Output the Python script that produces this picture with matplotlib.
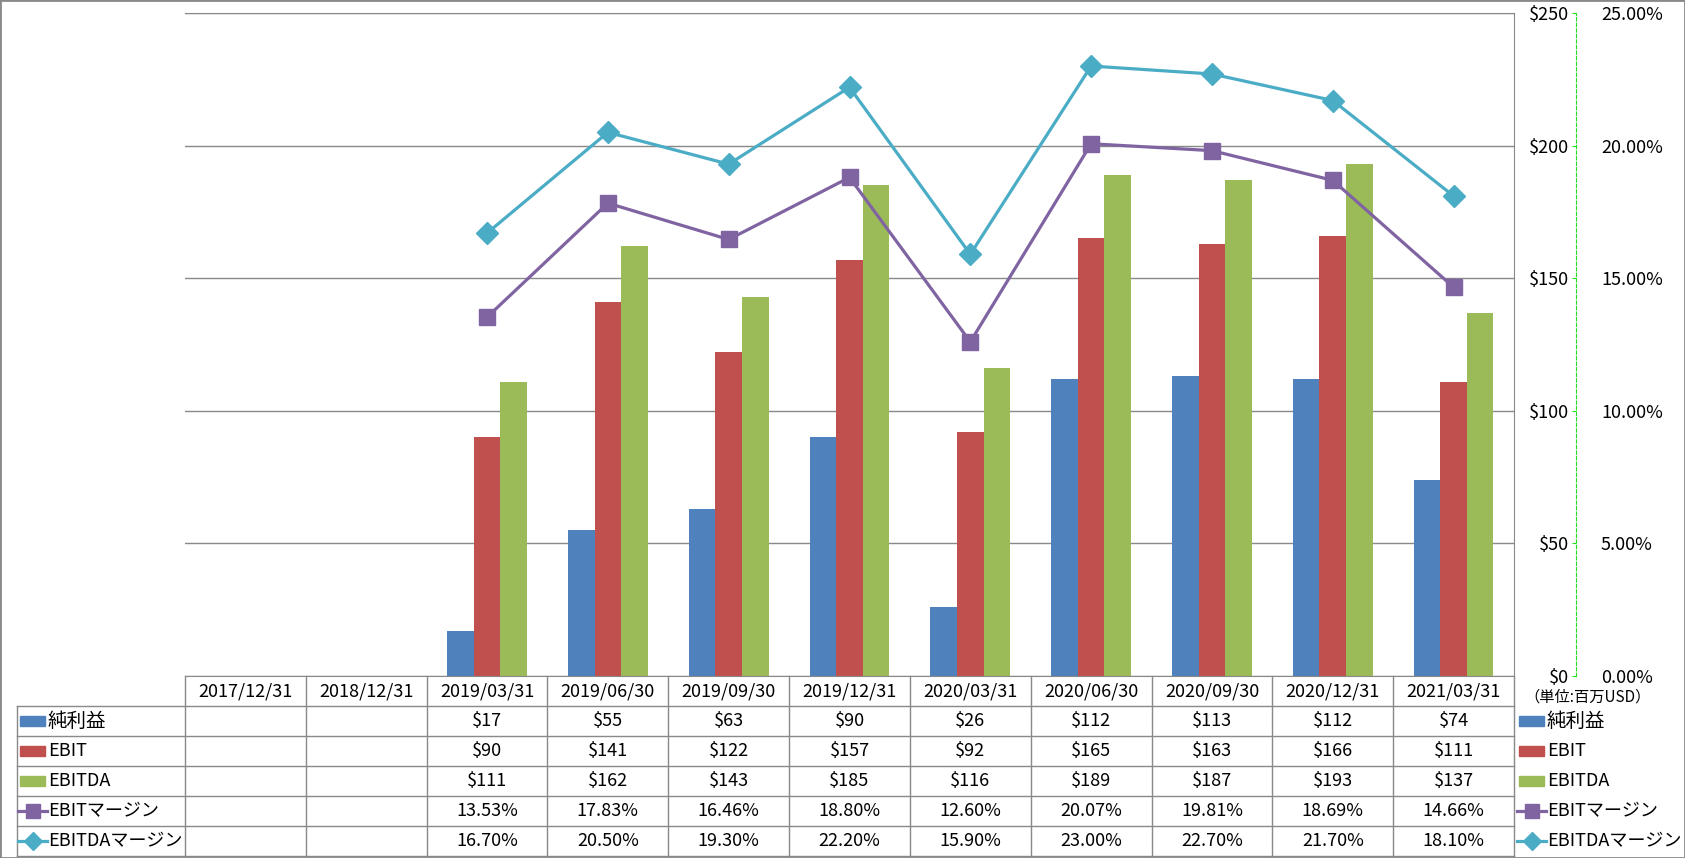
import numpy as np
import matplotlib
matplotlib.use("Agg")
import matplotlib.pyplot as plt
from matplotlib.patches import Rectangle

plt.rcParams['font.family'] = ['Noto Sans CJK JP', 'DejaVu Sans']

# data
dates = ['2017/12/31', '2018/12/31', '2019/03/31', '2019/06/30', '2019/09/30',
         '2019/12/31', '2020/03/31', '2020/06/30', '2020/09/30', '2020/12/31', '2021/03/31']
series_names = ['純利益', 'EBIT', 'EBITDA', 'EBITマージン', 'EBITDAマージン']
net_income = [np.nan, np.nan, 17, 55, 63, 90, 26, 112, 113, 112, 74]
ebit = [np.nan, np.nan, 90, 141, 122, 157, 92, 165, 163, 166, 111]
ebitda = [np.nan, np.nan, 111, 162, 143, 185, 116, 189, 187, 193, 137]
ebit_margin = [np.nan, np.nan, 13.53, 17.83, 16.46, 18.80, 12.60, 20.07, 19.81, 18.69, 14.66]
ebitda_margin = [np.nan, np.nan, 16.70, 20.50, 19.30, 22.20, 15.90, 23.00, 22.70, 21.70, 18.10]
usd_ticks = [0, 50, 100, 150, 200, 250]
pct_ticks = [0, 5, 10, 15, 20, 25]

c_blue, c_red, c_green = '#4F81BD', '#C0504D', '#9BBB59'
c_purple, c_cyan = '#8064A2', '#4BACC6'
grid_c = '#898989'
fs = 13

W, H = 1685, 858
fig = plt.figure(figsize=(W / 100, H / 100), dpi=100)

left, right, top, base = 185, 1514, 13, 676
ax = fig.add_axes([left / W, 1 - base / H, (right - left) / W, (base - top) / H])
x = np.arange(len(dates))
w = 0.22
ax.bar(x - w, net_income, w, color=c_blue)
ax.bar(x, ebit, w, color=c_red)
ax.bar(x + w, ebitda, w, color=c_green)
ax.set_xlim(-0.5, len(dates) - 0.5)
ax.set_ylim(0, 250)
ax.set_yticks(usd_ticks)
ax.set_yticklabels([f'${v}' for v in usd_ticks])
ax.yaxis.grid(True, color=grid_c, lw=1)
ax.set_axisbelow(True)
ax.set_xticks([])
axis_pos = (1576 - left) / (right - left)
ax.spines['left'].set_position(('axes', axis_pos))
ax.spines['left'].set_visible(False)
for s in ['top', 'bottom', 'right']:
    ax.spines[s].set_color(grid_c)
ax.tick_params(axis='y', length=3, color='#22DD22', pad=2, labelsize=fs)

ax2 = ax.twinx()
ax2.plot(x, np.array(ebit_margin) / 100, color=c_purple, lw=2.3, marker='s', ms=11)
ax2.plot(x, np.array(ebitda_margin) / 100, color=c_cyan, lw=2.3, marker='D', ms=11)
ax2.set_ylim(0, 0.25)
ax2.set_yticks([v / 100 for v in pct_ticks])
ax2.set_yticklabels([f'{v:.2f}%' for v in pct_ticks])
ax2.spines['right'].set_position(('axes', axis_pos))
ax2.spines['right'].set_color('#22DD22')
ax2.spines['right'].set_linestyle((0, (3, 2)))
for s in ['top', 'bottom', 'left']:
    ax2.spines[s].set_visible(False)
ax2.tick_params(axis='y', length=0, pad=18, labelsize=fs)
ax2.set_xlim(-0.5, len(dates) - 0.5)

ax.text(1588 / W, 1 - 697 / H, '（単位:百万USD）', transform=fig.transFigure,
        ha='center', va='center', fontsize=11)

# data table
bottom_px = 856
at = fig.add_axes([left / W, 1 - bottom_px / H, (right - left) / W, (bottom_px - base) / H])
ncol = len(dates)
at.set_xlim(-0.5, ncol - 0.5)
at.set_ylim(6, 0)
at.axis('off')
col_px = (right - left) / ncol
xl = -0.5 - (left - 17) / col_px

for r in range(1, 7):
    at.plot([xl, ncol - 0.5], [r, r], color=grid_c, lw=1, clip_on=False)
for i in range(ncol + 1):
    at.plot([i - 0.5, i - 0.5], [0, 6], color=grid_c, lw=1, clip_on=False)
at.plot([xl, xl], [1, 6], color=grid_c, lw=1, clip_on=False)

for i, d in enumerate(dates):
    at.text(i, 0.5, d, ha='center', va='center', fontsize=fs)

rows = [(net_income, '${:.0f}'), (ebit, '${:.0f}'), (ebitda, '${:.0f}'),
        (ebit_margin, '{:.2f}%'), (ebitda_margin, '{:.2f}%')]
for r, (vals, fmt) in enumerate(rows, start=1):
    for i, v in enumerate(vals):
        if not np.isnan(v):
            at.text(i, r + 0.5, fmt.format(v), ha='center', va='center', fontsize=fs)


def legend_keys(x0):
    # x0 in table data units, keys 25 px wide
    kw = 25 / col_px
    styles = [('bar', c_blue), ('bar', c_red), ('bar', c_green),
              ('s', c_purple), ('D', c_cyan)]
    for r, (name, (kind, c)) in enumerate(zip(series_names, styles), start=1):
        yc = r + 0.5
        if kind == 'bar':
            at.add_patch(Rectangle((x0, yc - 0.17), kw, 0.34, color=c, clip_on=False))
        else:
            at.plot([x0 - 2 / col_px, x0 + kw / 2, x0 + kw + 2 / col_px], [yc, yc, yc],
                    color=c, lw=2.3, marker=kind, ms=10 if kind == 's' else 9,
                    markevery=[1], clip_on=False)
        at.text(x0 + kw + 3 / col_px, yc, name, ha='left', va='center',
                fontsize=fs + 1 if r == 1 else fs)


legend_keys(xl + 3 / col_px)
legend_keys(ncol - 0.5 + 5 / col_px)

fig.add_artist(Rectangle((0, 0), 1, 1, transform=fig.transFigure, fill=False,
                         edgecolor=grid_c, lw=2))

fig.savefig('out.png', dpi=100)
